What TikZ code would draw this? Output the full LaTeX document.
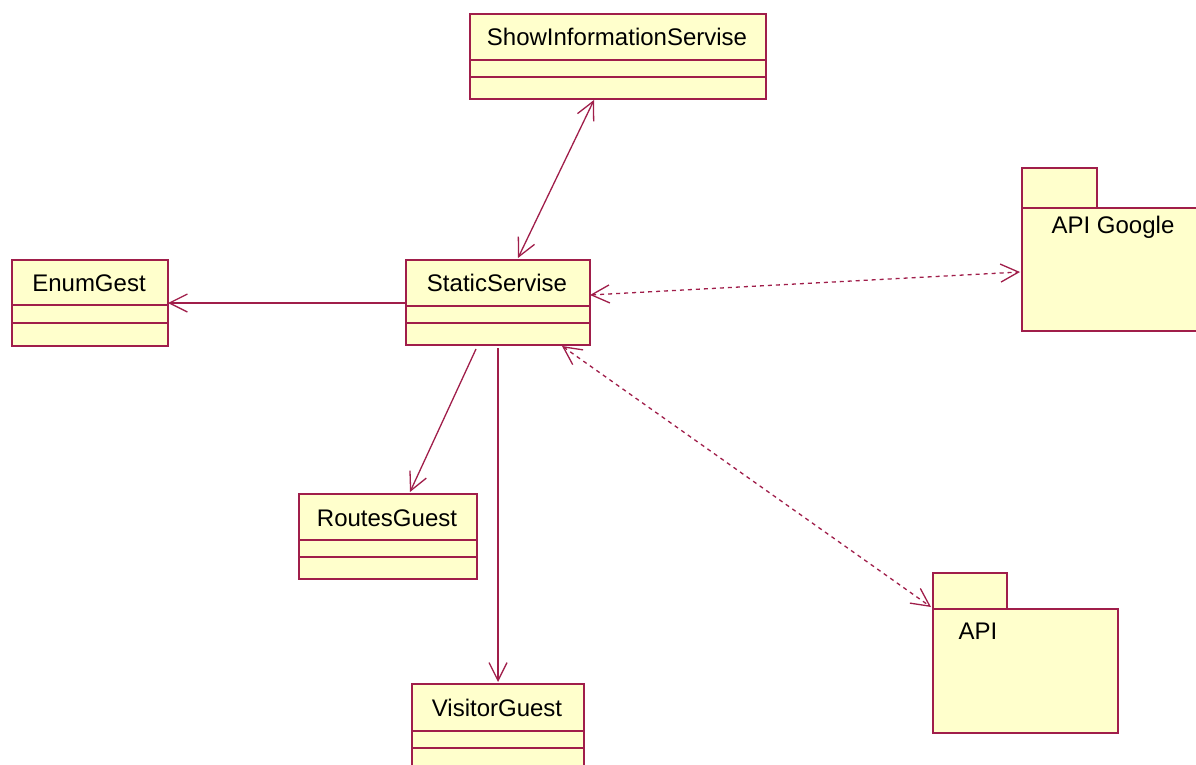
\documentclass[tikz,border=0pt]{standalone}
\usepackage{fontspec}
\setmainfont{Liberation Sans}
\usetikzlibrary{arrows.meta}
\definecolor{umlline}{HTML}{A01E4A}
\definecolor{umlfill}{HTML}{FFFFCC}
\tikzset{
  box/.style={draw=umlline, fill=umlfill, line width=1.6pt, inner sep=0pt, anchor=north west},
  cname/.style={font=\fontsize{24}{28}\selectfont, text=black, inner sep=0pt},
  sep/.style={draw=umlline, line width=1.6pt},
  assoc/.style={draw=umlline, line width=1.3pt, arrows={-Straight Barb[length=18pt,width=18pt,line width=1.3pt]}},
  biassoc/.style={draw=umlline, line width=1.3pt, arrows={Straight Barb[length=18pt,width=18pt,line width=1.3pt]-Straight Barb[length=18pt,width=18pt,line width=1.3pt]}},
  dep/.style={biassoc, dash pattern=on 4pt off 4pt},
}
\begin{document}
\begin{tikzpicture}[x=1pt,y=-1pt]
\clip (0,0) rectangle (1196,765);
\fill[white] (0,0) rectangle (1196,765);

% ShowInformationServise
\node[box, minimum width=296pt, minimum height=85pt] (show) at (469,13) {};
\node[cname] (showname) at (617,37) {ShowInformationServise};
\draw[sep] (469,60) -- (765,60);
\draw[sep] (469,77) -- (765,77);

% StaticServise
\node[box, minimum width=184pt, minimum height=85pt] (stat) at (405,259) {};
\node[cname] (statname) at (497,283) {StaticServise};
\draw[sep] (405,306) -- (589,306);
\draw[sep] (405,323) -- (589,323);

% EnumGest
\node[box, minimum width=156pt, minimum height=86pt] (enum) at (11,259) {};
\node[cname] (enumname) at (89,283) {EnumGest};
\draw[sep] (11,305) -- (167,305);
\draw[sep] (11,323) -- (167,323);

% RoutesGuest
\node[box, minimum width=178pt, minimum height=85pt] (routes) at (298,493) {};
\node[cname] (routesname) at (387,518) {RoutesGuest};
\draw[sep] (298,540) -- (476,540);
\draw[sep] (298,557) -- (476,557);

% VisitorGuest
\node[box, minimum width=172pt, minimum height=100pt] (visitor) at (411,683) {};
\node[cname] (visitorname) at (497,708) {VisitorGuest};
\draw[sep] (411,731) -- (583,731);
\draw[sep] (411,748) -- (583,748);

% API Google package
\node[box, minimum width=75pt, minimum height=40pt] (gtab) at (1021,167) {};
\node[box, minimum width=200pt, minimum height=123pt] (google) at (1021,207) {};
\node[cname] (googlename) at (1113,227) {API Google};

% API package
\node[box, minimum width=74pt, minimum height=36pt] (atab) at (932,572) {};
\node[box, minimum width=185pt, minimum height=124pt] (api) at (932,608) {};
\node[cname, anchor=center] (apiname) at (978,631) {API};

% connectors
\coordinate (s1) at (594,100);
\coordinate (s2) at (518,258);
\draw[biassoc] (s1) -- (s2);

\coordinate (e1) at (405,303);
\coordinate (e2) at (168,303);
\draw[assoc] (e1) -- (e2);

\coordinate (r1) at (476,349);
\coordinate (r2) at (410,492);
\draw[assoc] (r1) -- (r2);

\coordinate (v1) at (498,348);
\coordinate (v2) at (498,682);
\draw[assoc] (v1) -- (v2);

\coordinate (g1) at (590,295);
\coordinate (g2) at (1020,272);
\draw[dep] (g1) -- (g2);

\coordinate (a1) at (562,346);
\coordinate (a2) at (931,607);
\draw[dep] (a1) -- (a2);
\end{tikzpicture}
\end{document}
